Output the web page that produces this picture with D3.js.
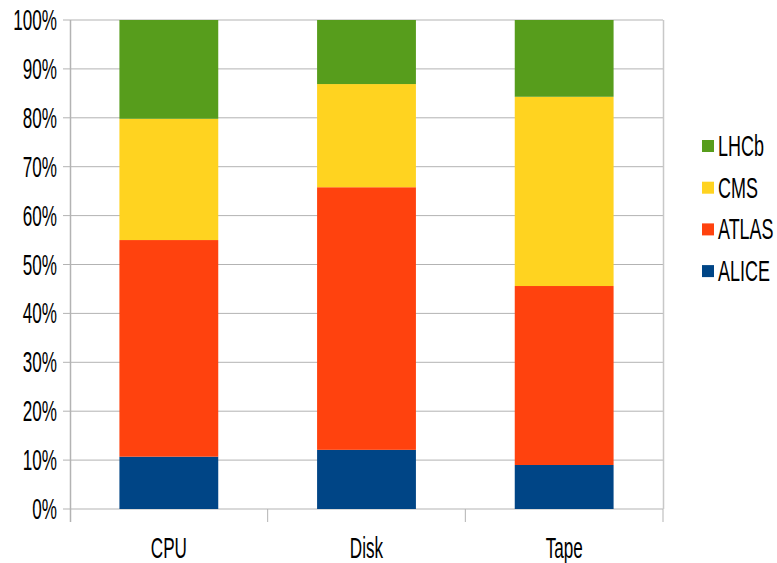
<!DOCTYPE html>
<html>
<head>
<meta charset="utf-8">
<script src="https://cdn.jsdelivr.net/npm/d3@7/dist/d3.min.js"></script>
<style>
  html, body { margin: 0; padding: 0; background: #fff; }
  svg { display: block; }
  text { font-family: "Liberation Sans", Arial, sans-serif; fill: #000; }
</style>
</head>
<body>
<script>
// Resource shares per experiment (percent of total)
const categories = ["CPU", "Disk", "Tape"];
const experiments = ["ALICE", "ATLAS", "CMS", "LHCb"];
const aliceValues = [10.7, 12.1, 9.0];
const atlasValues = [44.3, 53.7, 36.6];
const cmsValues   = [24.8, 21.1, 38.7];
const lhcbValues  = [20.2, 13.1, 15.7];
const colors = ["#004586", "#ff420e", "#ffd320", "#579d1c"];
const yTicks = [0, 10, 20, 30, 40, 50, 60, 70, 80, 90, 100];
const yTickLabels = yTicks.map(d => d + "%");

const seriesValues = [aliceValues, atlasValues, cmsValues, lhcbValues];
const rows = categories.map((c, i) => {
  const r = { category: c };
  experiments.forEach((e, j) => { r[e] = seriesValues[j][i]; });
  return r;
});

const W = 777, H = 563;
const margin = { left: 70, right: 114, top: 20, bottom: 54 };
const plotW = W - margin.left - margin.right;
const plotH = H - margin.top - margin.bottom;
const squeeze = 0.59;   // condensed text width
const fontSize = 29;

const svg = d3.select("body").append("svg").attr("width", W).attr("height", H);
const g = svg.append("g").attr("transform", `translate(${margin.left},${margin.top})`);

const x = d3.scaleBand().domain(categories).range([0, plotW]).paddingInner(0.5).paddingOuter(0.25);
const y = d3.scaleLinear().domain([0, 100]).range([plotH, 0]);

// horizontal gridlines with short ticks to the left
g.selectAll("line.grid").data(yTicks).join("line")
  .attr("class", "grid")
  .attr("x1", -7).attr("x2", plotW)
  .attr("y1", d => y(d)).attr("y2", d => y(d))
  .attr("stroke", "#b3b3b3").attr("stroke-width", 1);

// right wall edge
g.append("line").attr("x1", plotW + 0.5).attr("x2", plotW + 0.5)
  .attr("y1", 0).attr("y2", plotH).attr("stroke", "#c8c8c8").attr("stroke-width", 1.5);

// stacked bars
const stack = d3.stack().keys(experiments)(rows);
g.selectAll("g.series").data(stack).join("g")
  .attr("class", "series")
  .attr("fill", (d, i) => colors[i])
  .selectAll("rect").data(d => d).join("rect")
  .attr("x", d => x(d.data.category))
  .attr("width", x.bandwidth())
  .attr("y", d => y(d[1]))
  .attr("height", d => y(d[0]) - y(d[1]));

// left axis line and category separators below the baseline
g.append("line").attr("x1", 0.5).attr("x2", 0.5).attr("y1", 0).attr("y2", plotH + 13)
  .attr("stroke", "#b3b3b3").attr("stroke-width", 1.5);
const step = plotW / categories.length;
g.selectAll("line.sep").data(d3.range(1, categories.length + 1)).join("line")
  .attr("class", "sep")
  .attr("x1", d => d * step).attr("x2", d => d * step)
  .attr("y1", plotH).attr("y2", plotH + 13)
  .attr("stroke", "#b3b3b3").attr("stroke-width", 1);

// y tick labels
g.selectAll("text.ylab").data(yTicks).join("text")
  .attr("class", "ylab")
  .attr("transform", d => `translate(-13,${y(d) + 10}) scale(${squeeze},1)`)
  .attr("text-anchor", "end")
  .attr("font-size", fontSize)
  .text((d, i) => yTickLabels[i]);

// category labels
g.selectAll("text.xlab").data(categories).join("text")
  .attr("class", "xlab")
  .attr("transform", d => `translate(${x(d) + x.bandwidth() / 2},${plotH + 49}) scale(${squeeze},1)`)
  .attr("text-anchor", "middle")
  .attr("font-size", fontSize)
  .text(d => d);

// legend (top entry is the top of the stack)
const legendOrder = experiments.slice().reverse();
const legend = svg.append("g").attr("transform", "translate(702,146)");
const li = legend.selectAll("g").data(legendOrder).join("g")
  .attr("transform", (d, i) => `translate(0,${i * 41.7})`);
li.append("rect").attr("x", 0).attr("y", -6).attr("width", 12).attr("height", 12)
  .attr("fill", d => colors[experiments.indexOf(d)]);
li.append("text")
  .attr("transform", `translate(16,10) scale(0.62,1)`)
  .attr("font-size", fontSize)
  .text(d => d);
</script>
</body>
</html>
